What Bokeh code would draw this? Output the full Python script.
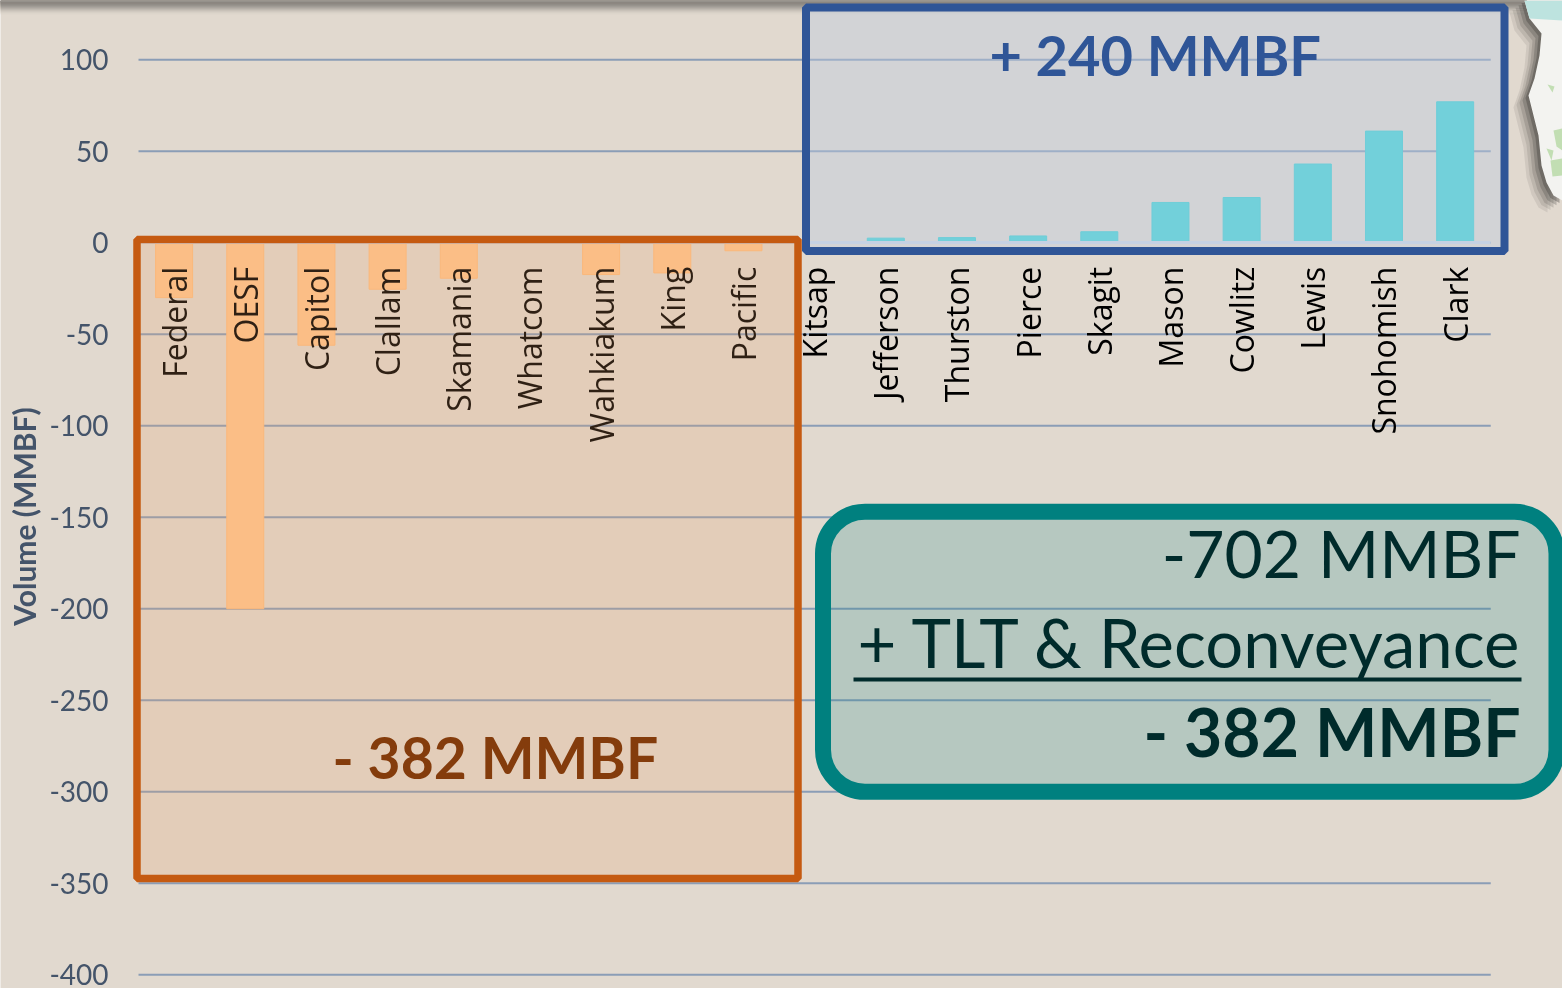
from bokeh.plotting import figure
from bokeh.models import BoxAnnotation, Label, PolyAnnotation, Range1d, FixedTicker
from bokeh.embed import file_html
from bokeh.resources import INLINE
import numpy as np

categories = ["Federal", "OESF", "Capitol", "Clallam", "Skamania", "Whatcom", "Wahkiakum",
              "King", "Pacific", "Kitsap", "Jefferson", "Thurston", "Pierce", "Skagit",
              "Mason", "Cowlitz", "Lewis", "Snohomish", "Clark"]
neg_values = [-30, -200, -56, -25.4, -19.4, 0, -17.4, -16.5, -4.4]
pos_values = [0.5, 2.5, 2.8, 3.7, 6, 22, 24.7, 43, 61, 77]
y_ticks = [100, 50, 0, -50, -100, -150, -200, -250, -300, -350, -400]
y_tick_labels = ["100", "50", "0", "-50", "-100", "-150", "-200", "-250", "-300", "-350", "-400"]

BG = "#E1D9CF"
W, H = 1562, 988
STEP = 71.17
X0 = 173.6

p = figure(width=W, height=H, output_backend="svg", toolbar_location=None,
           x_range=Range1d(-X0 / STEP, (W - X0) / STEP),
           y_range=Range1d(-407.5, 132.35),
           min_border_left=0, min_border_right=0, min_border_top=0, min_border_bottom=0,
           background_fill_color=BG, border_fill_color=BG, outline_line_color=None)
p.styles = {"position": "fixed", "left": "0px", "top": "0px"}

positions = list(range(len(categories)))
n_neg = len(neg_values)
p.xgrid.grid_line_color = None
p.ygrid.grid_line_color = None
p.segment(x0=[positions[0] - 0.5] * len(y_ticks), x1=[positions[-1] + 0.5] * len(y_ticks),
          y0=y_ticks, y1=y_ticks, line_color="#8A9DB6", line_width=2, level="underlay")

p.vbar(x=positions[:n_neg], top=0, bottom=neg_values, width=0.52,
       fill_color="#FFC68F", line_color="#FFBE80", line_width=1)
p.vbar(x=positions[n_neg:], top=pos_values, bottom=0, width=0.52,
       fill_color="#41D4D5", line_color="#3DCFD2", line_width=1)

xa = p.xaxis[0]
xa.fixed_location = 0
xa.bounds = (positions[0] - 0.5, positions[-1] + 0.5)
xa.ticker = FixedTicker(ticks=positions)
xa.major_label_overrides = {i: c for i, c in zip(positions, categories)}
xa.major_label_orientation = np.pi / 2
xa.major_label_standoff = 24
xa.major_label_text_font = "Open Sans"
xa.major_label_text_font_size = "32px"
xa.major_label_text_color = "#000000"
xa.major_tick_line_color = None
xa.minor_tick_line_color = None
xa.major_tick_out = 0
xa.axis_line_color = "#CCD6E4"
xa.axis_line_width = 3

ya = p.yaxis[0]
ya.fixed_location = positions[0] - 0.5
ya.ticker = FixedTicker(ticks=y_ticks)
ya.major_label_overrides = {t: s for t, s in zip(y_ticks, y_tick_labels)}
ya.major_label_text_font = "Lato"
ya.major_label_text_font_size = "28px"
ya.major_label_text_color = "#44546A"
ya.major_label_standoff = 30
ya.major_tick_line_color = None
ya.minor_tick_line_color = None
ya.major_tick_out = 0
ya.axis_line_color = None


def box(l, r, t, b, **kw):
    a = BoxAnnotation(left=l, right=r, top=t, bottom=b, left_units="canvas", right_units="canvas",
                      top_units="canvas", bottom_units="canvas", line_alpha=1, **kw)
    p.add_layout(a)
    return a


def label(x, y, text, size, color, style="normal", align="left", font="Lato", angle=0.0):
    px = int(size)
    shift = 0.39 * px
    if angle:
        x -= shift
    else:
        y -= shift
    p.add_layout(Label(x=x, y=y, x_units="canvas", y_units="canvas", text=text, text_font=font,
                       text_font_size=f"{px}px", text_color=color, text_font_style=style,
                       text_align=align, text_baseline="alphabetic", angle=angle, level="overlay"))


# top shadow band, painted from its lightest, deepest row upwards
band = ["#A09B95", "#8B8680", "#8B8680", "#8E8983", "#94908A", "#9C9791", "#A5A099", "#AFA9A2",
        "#B9B3AB", "#C3BDB4", "#CCC5BC", "#D4CDC4", "#DAD3C9", "#DED6CC"]
for i in range(len(band) - 1, -1, -1):
    box(0, 1526, 0, i + 1, fill_color=band[i], fill_alpha=1, line_color=None)

# map fragment
map_x = [1524, 1529, 1541, 1539, 1534, 1528, 1533, 1538, 1541, 1546, 1553, 1562, 1562]
map_y = [0, 18, 33, 55, 78, 95, 115, 135, 165, 182, 195, 200, 0]
for off, al in [(-15, .10), (-12, .13), (-9, .18), (-6, .25), (-3, .35)]:
    p.add_layout(PolyAnnotation(xs=[x + off for x in map_x], ys=[y + abs(off) * .8 for y in map_y],
                                xs_units="canvas", ys_units="canvas",
                                fill_color="#3C3A36", fill_alpha=al, line_color=None))
p.add_layout(PolyAnnotation(xs=map_x, ys=map_y, xs_units="canvas", ys_units="canvas",
                            fill_color="#F3F3F0", fill_alpha=1, line_color=None))
p.add_layout(PolyAnnotation(xs=[1524, 1529, 1562, 1562], ys=[0, 18, 20, 0], xs_units="canvas",
                            ys_units="canvas", fill_color="#BDE3DF", fill_alpha=1, line_color=None))
for gx, gy in [([1547, 1554, 1552], [84, 86, 92]),
               ([1553, 1562, 1562, 1556], [130, 128, 150, 146]),
               ([1546, 1553, 1551], [148, 150, 160]),
               ([1550, 1562, 1562, 1552], [160, 158, 175, 176])]:
    p.add_layout(PolyAnnotation(xs=gx, ys=gy, xs_units="canvas", ys_units="canvas",
                                fill_color="#B5D8A4", fill_alpha=.8, line_color=None))

# highlight boxes
box(136.5, 797.5, 239, 878, fill_color="#EBA266", fill_alpha=.2, line_color="#C55A11",
    line_width=7.5, level="overlay")
box(805.5, 1504, 7, 250.5, fill_color="#BCCAE1", fill_alpha=.4, line_color="#2F5597",
    line_width=8, level="overlay")
box(822.5, 1556, 511.3, 791.3, fill_color="#00807F", fill_alpha=.19, line_color="#00807F",
    line_width=16, border_radius=42, level="overlay")

label(35, 516, "Volume (MMBF)", 30, "#44546A", "bold", align="center", angle=np.pi / 2)
label(989, 76, "+ 240 MMBF", 56, "#2F5597", "bold")
label(332, 779, "- 382 MMBF", 57, "#843C0C", "bold")
label(1520, 578, "-702 MMBF", 66, "#002B2B", align="right")
label(1523, 668, "+ TLT & Reconveyance", 67, "#002B2B", align="right")
box(853, 1521, 677, 681, fill_color="#002B2B", fill_alpha=1, line_color=None, level="overlay")
label(1520, 757, "- 382 MMBF", 66, "#002B2B", "bold", align="right")

open("out.html", "w").write(file_html(p, INLINE))
